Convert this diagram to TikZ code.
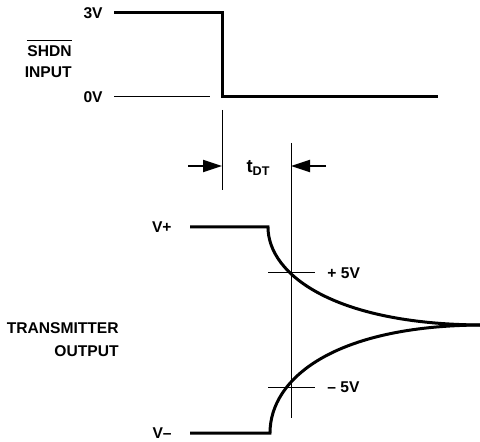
\documentclass[tikz,border=0pt]{standalone}
\usepackage{fontspec}
\setmainfont{Liberation Sans}
\usepackage{tikz}
\usetikzlibrary{arrows.meta,positioning,calc}

\begin{document}
\begin{tikzpicture}[x=0.5pt,y=-0.5pt,
  font=\fontsize{7.8}{9.4}\selectfont\bfseries,
  wave/.style={line width=1.5pt},
  thin/.style={line width=0.5pt},
  dim/.style={-{Triangle[length=9.5pt,width=6pt]},line width=1pt},
  lbl/.style={inner sep=0pt}]
\useasboundingbox (0,0) rectangle (480,442);
% Labels
\node[lbl,anchor=east] (v3) at (103,13) {3V};
\node[lbl,anchor=east] (v0) at (103,97) {0V};
\node[lbl,anchor=east] (shdn) at (72,51) {SHDN};
\node[lbl,anchor=east] (inp) at (72,72) {INPUT};
\draw[thin] ($(shdn.north west)+(0,-5)$) -- ($(shdn.north east)+(0,-5)$);
\node[lbl] (tdt) at (258,168) {{\fontsize{9.2}{10}\selectfont t}\raisebox{-1.6pt}{\fontsize{6.3}{7}\selectfont DT}};
\node[lbl,anchor=east] (vp) at (172,227) {V+};
\node[lbl,anchor=east] (vm) at (172,433) {V\textendash};
\node[lbl,anchor=west] (p5) at (327,273) {+ 5V};
\node[lbl,anchor=west] (m5) at (327,387) {\textendash\ 5V};
\node[lbl,anchor=east] (tx) at (119,328) {TRANSMITTER};
\node[lbl,anchor=east] (out) at (119,351) {OUTPUT};
% SHDN input waveform
\draw[wave] (114,13) -- (222,13) -- (222,97) -- (438,97);
\draw[thin] (114,97) -- (210,97);
% Timing marks
\draw[thin] (222,110) -- (222,190);
\draw[thin] (291,143) -- (291,418);
\coordinate (al) at (188,166);
\coordinate (ar) at (326,166);
\draw[dim] (al) -- (222,166);
\draw[dim] (ar) -- (291,166);
% Transmitter output
\draw[wave] (190,227) -- (268,227) .. controls (268,275) and (335,324) .. (480,325);
\draw[wave] (190,433) -- (270,433) .. controls (270,378) and (335,326) .. (480,325);
\draw[thin] (268,273) -- (315,273);
\draw[thin] (268,387) -- (315,387);
\end{tikzpicture}
\end{document}
